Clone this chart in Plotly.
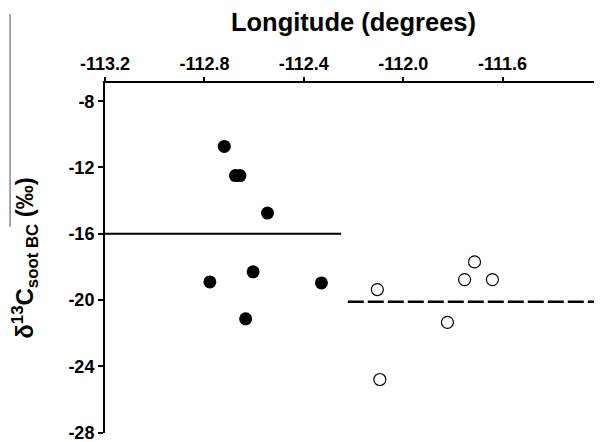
import plotly.graph_objects as go

# Data
lon_west = [-112.778, -112.72, -112.675, -112.657, -112.604, -112.634, -112.546, -112.329]
d13c_west = [-18.91, -10.73, -12.49, -12.49, -18.30, -21.14, -14.75, -18.97]
lon_east = [-112.104, -112.094, -111.822, -111.753, -111.713, -111.641]
d13c_east = [-19.37, -24.80, -21.35, -18.77, -17.70, -18.77]

mean_west = -16.0
mean_east = -20.1
mean_west_lon = [-113.2, -112.25]
mean_east_lon = [-112.223, -111.2]

x_ticks = [-113.2, -112.8, -112.4, -112.0, -111.6]
x_tick_labels = ["-113.2", "-112.8", "-112.4", "-112.0", "-111.6"]
y_ticks = [-8, -12, -16, -20, -24, -28]
y_tick_labels = ["-8", "-12", "-16", "-20", "-24", "-28"]

FONT = "Liberation Sans, Arial, sans-serif"

fig = go.Figure()
fig.add_trace(go.Scatter(
    x=mean_west_lon, y=[mean_west, mean_west], mode="lines",
    line=dict(color="black", width=2.2), showlegend=False, hoverinfo="skip"))
fig.add_trace(go.Scatter(
    x=mean_east_lon, y=[mean_east, mean_east], mode="lines",
    line=dict(color="black", width=2.5, dash="16px,4px"), showlegend=False, hoverinfo="skip"))
fig.add_trace(go.Scatter(
    x=lon_west, y=d13c_west, mode="markers",
    marker=dict(size=13, color="black", line=dict(width=0)), showlegend=False))
fig.add_trace(go.Scatter(
    x=lon_east, y=d13c_east, mode="markers",
    marker=dict(size=12, color="white", line=dict(width=1.2, color="black")), showlegend=False))

# The page body has an 8px margin, so the figure is 8px smaller and margins compensate.
fig.update_layout(
    width=594, height=434,
    margin=dict(l=97, r=0, t=75, b=9, autoexpand=False),
    paper_bgcolor="white", plot_bgcolor="white",
    font=dict(family=FONT, color="black"),
    xaxis=dict(
        side="top", range=[-113.2, -111.2],
        tickvals=x_ticks, ticktext=[f"<b>{t}</b>" for t in x_tick_labels],
        ticks="outside", ticklen=4, tickwidth=2, tickcolor="black",
        showline=True, linecolor="black", linewidth=2,
        showgrid=False, zeroline=False, automargin=False, ticklabeloverflow="allow",
        tickfont=dict(size=18, family=FONT, color="black"),
        title=dict(text="<b>Longitude (degrees)</b>", font=dict(size=25.5, family=FONT, color="black"), standoff=18),
    ),
    yaxis=dict(
        range=[-28.03, -6.9],
        tickvals=y_ticks, ticktext=[f"<b>{t}</b>" for t in y_tick_labels],
        ticks="outside", ticklen=5, tickwidth=2, tickcolor="black",
        showline=True, linecolor="black", linewidth=2,
        showgrid=False, zeroline=False, automargin=False, ticklabeloverflow="allow",
        tickfont=dict(size=18, family=FONT, color="black"),
        title=dict(text="<b>δ<sup>13</sup>C<sub>soot BC</sub> (‰)</b>",
                   font=dict(size=24, family=FONT, color="black"), standoff=30),
    ),
    shapes=[dict(type="line", xref="paper", yref="paper",
                 x0=-0.191, x1=-0.191, y0=1.197, y1=0.589,
                 line=dict(color="#888888", width=1.5))],
)

fig.write_html("out.html")
